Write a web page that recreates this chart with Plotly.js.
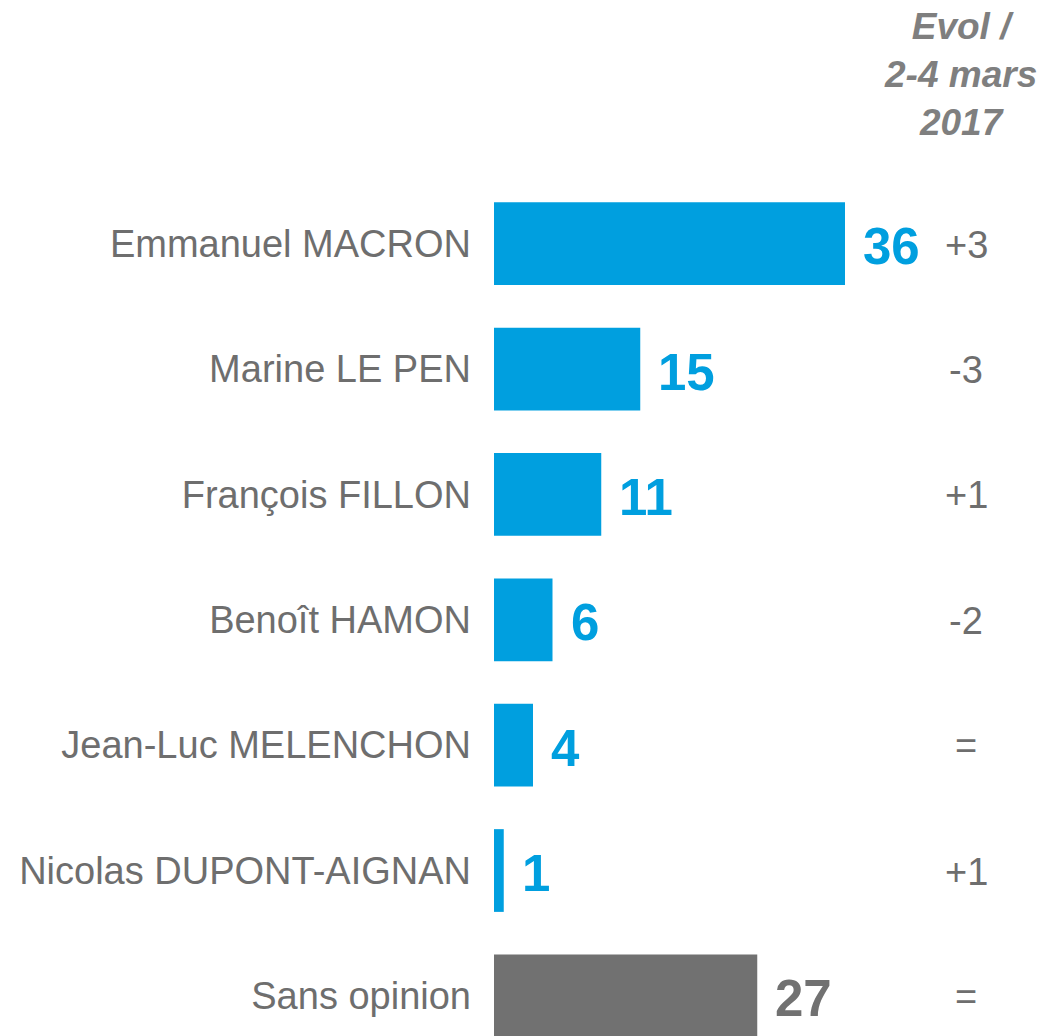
<!DOCTYPE html>
<html>
<head>
<meta charset="utf-8">
<script src="https://cdn.plot.ly/plotly-3.0.1.min.js"></script>
<style>
html,body{margin:0;padding:0;background:#fff;}
#chart{width:1040px;height:1036px;}
</style>
</head>
<body>
<div id="chart"></div>
<script>
var categories = ["Emmanuel MACRON", "Marine LE PEN", "François FILLON", "Benoît HAMON", "Jean-Luc MELENCHON", "Nicolas DUPONT-AIGNAN", "Sans opinion"];
var values = [36, 15, 11, 6, 4, 1, 27];
var evolutions = ["+3", "-3", "+1", "-2", "=", "+1", "="];
var evolHeader = "Evol /<br>2-4 mars<br>2017";

var BLUE = "#009FDF";
var GREY = "#717171";
var TEXT = "#6E6E6E";
var FONT = "Liberation Sans, Arial, sans-serif";

var colors = categories.map(function (c) { return c === "Sans opinion" ? GREY : BLUE; });

var trace = {
  type: "bar",
  orientation: "h",
  y: categories,
  x: values,
  width: 0.66,
  marker: { color: colors, line: { width: 0 } },
  hoverinfo: "none"
};

var annotations = [];
categories.forEach(function (c, i) {
  annotations.push({
    xref: "x", yref: "y", x: values[i], y: c,
    text: "<b>" + values[i] + "</b>",
    showarrow: false, xanchor: "left", yanchor: "middle",
    xshift: 16, yshift: -3,
    font: { family: FONT, size: 51, color: colors[i] }
  });
  annotations.push({
    xref: "paper", yref: "y", x: 0.8645, y: c,
    text: evolutions[i],
    showarrow: false, xanchor: "center", yanchor: "middle",
    yshift: -1,
    font: { family: FONT, size: 38, color: TEXT }
  });
});
annotations.push({
  xref: "paper", yref: "paper", x: 0.855, y: 1.124,
  text: "<b><i>" + evolHeader + "</i></b>",
  showarrow: false, xanchor: "center", yanchor: "middle", align: "center",
  font: { family: FONT, size: 37, color: "#7F7F7F" }
});

var layout = {
  width: 1040, height: 1036,
  margin: { l: 494, r: 0, t: 181, b: 0, pad: 0 },
  paper_bgcolor: "#fff", plot_bgcolor: "#fff",
  showlegend: false,
  xaxis: { range: [0, 56], visible: false, fixedrange: true },
  yaxis: {
    type: "category",
    range: [6.32, -0.5],
    showgrid: false, zeroline: false, showline: false,
    ticks: "", ticklabelstandoff: 22,
    tickfont: { family: FONT, size: 38, color: TEXT },
    fixedrange: true
  },
  annotations: annotations,
  font: { family: FONT }
};

Plotly.newPlot("chart", [trace], layout, { displayModeBar: false, staticPlot: true });
</script>
</body>
</html>
